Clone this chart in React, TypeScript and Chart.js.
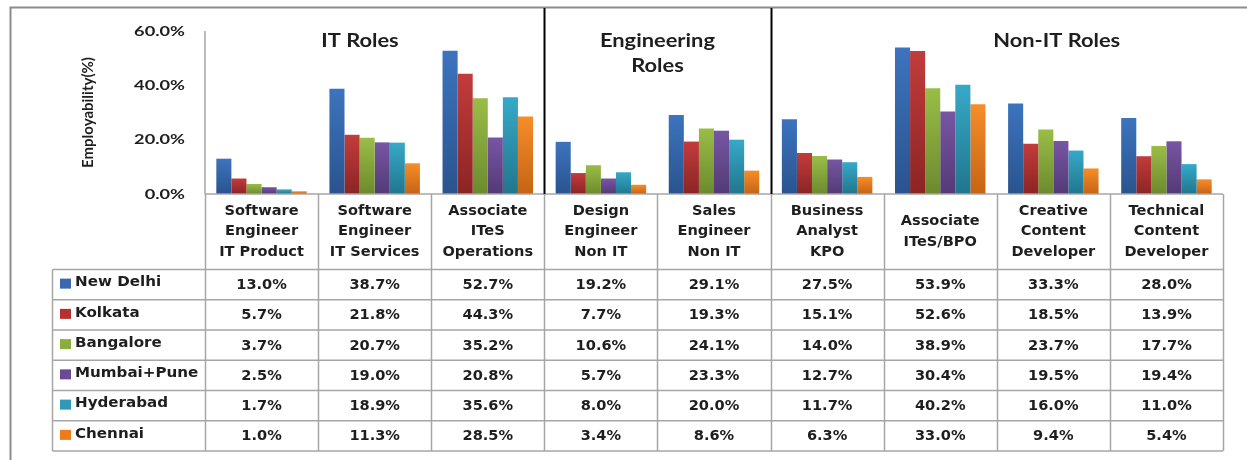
import { useEffect, useRef } from 'react';
import { Chart, registerables } from 'chart.js';

Chart.register(...registerables);

// ---------- data ----------
const categories: string[][] = [
  ['Software', 'Engineer', 'IT Product'],
  ['Software', 'Engineer', 'IT Services'],
  ['Associate', 'ITeS', 'Operations'],
  ['Design', 'Engineer', 'Non IT'],
  ['Sales', 'Engineer', 'Non IT'],
  ['Business', 'Analyst', 'KPO'],
  ['Associate', 'ITeS/BPO'],
  ['Creative', 'Content', 'Developer'],
  ['Technical', 'Content', 'Developer'],
];
const cities = ['New Delhi', 'Kolkata', 'Bangalore', 'Mumbai+Pune', 'Hyderabad', 'Chennai'];
const newDelhi = [13.0, 38.7, 52.7, 19.2, 29.1, 27.5, 53.9, 33.3, 28.0];
const kolkata = [5.7, 21.8, 44.3, 7.7, 19.3, 15.1, 52.6, 18.5, 13.9];
const bangalore = [3.7, 20.7, 35.2, 10.6, 24.1, 14.0, 38.9, 23.7, 17.7];
const mumbaiPune = [2.5, 19.0, 20.8, 5.7, 23.3, 12.7, 30.4, 19.5, 19.4];
const hyderabad = [1.7, 18.9, 35.6, 8.0, 20.0, 11.7, 40.2, 16.0, 11.0];
const chennai = [1.0, 11.3, 28.5, 3.4, 8.6, 6.3, 33.0, 9.4, 5.4];
const yTicks = [0, 20, 40, 60];
const yTitle = 'Employability(%)';
const groupTitles: string[][] = [['IT Roles'], ['Engineering', 'Roles'], ['Non-IT Roles']];

const series = [newDelhi, kolkata, bangalore, mumbaiPune, hyderabad, chennai];

// ---------- layout / style ----------
const W = 1247;
const H = 460;
const groupTitleAt = [0.87, 3.5, 7.03]; // in category units
const groupBreaks = [2.5, 4.5];
const palette = [
  { top: '#3C74BE', bottom: '#2A538E', swatch: '#3A67AE' },
  { top: '#C23C3C', bottom: '#8C2424', swatch: '#B53131' },
  { top: '#9ABD47', bottom: '#6C8A2D', swatch: '#8AAE3E' },
  { top: '#7756A3', bottom: '#543A77', swatch: '#6A4A92' },
  { top: '#36A9C8', bottom: '#21768D', swatch: '#2E9AB8' },
  { top: '#F68D29', bottom: '#C66415', swatch: '#EC7C1F' },
];
const gridColor = '#A6A6A6';
const textColor = '#1E1E1E';
const tableLeft = 52.5;
const tableTop = 269.5;
const rowH = 30.25;

function barFill(ctx: any, i: number) {
  const c = palette[i];
  const chart = ctx.chart;
  const y = chart.scales && chart.scales.y;
  if (!y || ctx.type !== 'data') return c.swatch;
  const top = y.getPixelForValue(ctx.raw as number);
  const bottom = y.getPixelForValue(0);
  if (!isFinite(top) || !isFinite(bottom) || bottom - top < 1) return c.swatch;
  const g = chart.ctx.createLinearGradient(0, top, 0, bottom);
  g.addColorStop(0, c.top);
  g.addColorStop(1, c.bottom);
  return g;
}

function text(
  ctx: CanvasRenderingContext2D,
  s: string,
  x: number,
  y: number,
  font: string,
  align: CanvasTextAlign,
  sx: number
) {
  ctx.save();
  ctx.translate(x, y);
  ctx.scale(sx, 1);
  ctx.font = font;
  ctx.fillStyle = textColor;
  ctx.textAlign = align;
  ctx.textBaseline = 'middle';
  ctx.fillText(s, 0, 0);
  ctx.restore();
}

function line(ctx: CanvasRenderingContext2D, x1: number, y1: number, x2: number, y2: number, color: string, w: number) {
  ctx.save();
  ctx.strokeStyle = color;
  ctx.lineWidth = w;
  ctx.beginPath();
  ctx.moveTo(x1, y1);
  ctx.lineTo(x2, y2);
  ctx.stroke();
  ctx.restore();
}

const overlayPlugin = {
  id: 'overlay',
  afterDraw(chart: any) {
    const ctx: CanvasRenderingContext2D = chart.ctx;
    const xs = chart.scales.x;
    const ys = chart.scales.y;
    const area = chart.chartArea;
    const zeroY = ys.getPixelForValue(0);
    const n = categories.length;

    // outer frame (top + left)
    ctx.save();
    ctx.strokeStyle = '#8C8C8C';
    ctx.lineWidth = 2;
    ctx.beginPath();
    ctx.moveTo(10.5, H + 5);
    ctx.lineTo(10.5, 7.5);
    ctx.lineTo(W + 5, 7.5);
    ctx.stroke();
    ctx.restore();

    // axes
    line(ctx, area.left, area.top, area.left, zeroY, gridColor, 1.5);
    line(ctx, area.left, zeroY, area.right, zeroY, gridColor, 1.5);

    // group separators
    groupBreaks.forEach((b) => {
      const x = Math.round(xs.getPixelForValue(b)) + 0.5;
      line(ctx, x, 8, x, zeroY, '#000', 2);
    });

    // group titles
    groupTitles.forEach((t, gi) => {
      const x = xs.getPixelForValue(groupTitleAt[gi]);
      t.forEach((s, j) => text(ctx, s, x, 41 + j * 25, 'bold 19px Lato', 'center', 1.15));
    });

    // y ticks
    yTicks.forEach((v) => {
      text(ctx, v.toFixed(1) + '%', area.left - 20, ys.getPixelForValue(v), 'bold 14px Lato', 'right', 1.3);
    });

    // y title
    ctx.save();
    ctx.translate(88, (area.top + zeroY) / 2);
    ctx.rotate(-Math.PI / 2);
    ctx.font = 'bold 15px Lato';
    ctx.fillStyle = textColor;
    ctx.textAlign = 'center';
    ctx.textBaseline = 'middle';
    ctx.fillText(yTitle, 0, 0);
    ctx.restore();

    // category label boxes
    for (let k = 0; k <= n; k++) {
      const x = Math.round(xs.getPixelForValue(k - 0.5)) + 0.5;
      line(ctx, x, zeroY, x, tableTop + rowH * cities.length, gridColor, 1.5);
    }
    const catMid = (zeroY + tableTop) / 2;
    categories.forEach((c, i) => {
      const x = xs.getPixelForValue(i);
      c.forEach((s, j) => {
        text(ctx, s, x, catMid + (j - (c.length - 1) / 2) * 20.5, 'bold 13.5px "DejaVu Sans"', 'center', 1.08);
      });
    });

    // data table
    for (let r = 0; r <= cities.length; r++) {
      const y = tableTop + r * rowH;
      line(ctx, tableLeft, y, area.right, y, gridColor, 1.5);
    }
    line(ctx, tableLeft, tableTop, tableLeft, tableTop + rowH * cities.length, gridColor, 1.5);
    cities.forEach((city, r) => {
      const cy = tableTop + (r + 0.5) * rowH;
      ctx.save();
      ctx.fillStyle = palette[r].swatch;
      ctx.fillRect(60, cy - 6, 11, 10);
      ctx.restore();
      text(ctx, city, 75, cy - 2, 'bold 14px "DejaVu Sans"', 'left', 1.08);
      series[r].forEach((v, i) => {
        text(ctx, v.toFixed(1) + '%', xs.getPixelForValue(i), cy + 1, 'bold 13.5px "DejaVu Sans"', 'center', 1.08);
      });
    });
  },
};

export default function App() {
  const ref = useRef<HTMLCanvasElement | null>(null);
  useEffect(() => {
    if (!ref.current) return;
    const chart = new Chart(ref.current, {
      type: 'bar',
      data: {
        labels: categories.map((c) => c.join(' ')),
        datasets: series.map((s, i) => ({
          label: cities[i],
          data: s,
          backgroundColor: (ctx: any) => barFill(ctx, i),
          borderWidth: 0,
          categoryPercentage: 0.8,
          barPercentage: 1,
        })),
      },
      options: {
        responsive: false,
        animation: false,
        devicePixelRatio: 1,
        layout: { padding: { left: 0, top: 31, right: 24, bottom: 266 } },
        plugins: { legend: { display: false }, tooltip: { enabled: false } },
        scales: {
          x: { display: false },
          y: {
            min: 0,
            max: 60,
            ticks: { display: false, stepSize: 20 },
            grid: { display: false },
            border: { display: false },
            afterFit: (s: any) => {
              s.width = 205;
            },
          },
        },
      } as any,
      plugins: [overlayPlugin],
    });
    return () => chart.destroy();
  }, []);
  return (
    <div style={{ position: 'fixed', left: 0, top: 0, width: W, height: H, background: '#fff' }}>
      <canvas ref={ref} width={W} height={H} style={{ display: 'block' }} />
    </div>
  );
}
